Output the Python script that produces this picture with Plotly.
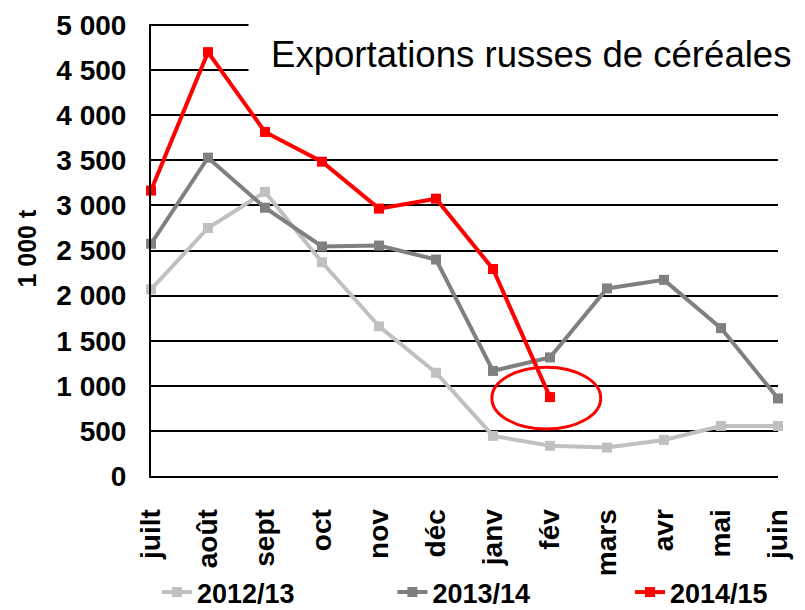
import plotly.graph_objects as go

months = ["juilt", "août", "sept", "oct", "nov", "déc", "janv", "fév", "mars", "avr", "mai", "juin"]
s2012_13 = [2070, 2750, 3150, 2370, 1660, 1145, 445, 335, 315, 400, 555, 555]
s2013_14 = [2575, 3530, 2975, 2545, 2555, 2400, 1165, 1315, 2080, 2175, 1640, 860]
s2014_15 = [3165, 4700, 3815, 3485, 2965, 3075, 2295, 875]
series_names = ["2012/13", "2013/14", "2014/15"]
y_ticks = [0, 500, 1000, 1500, 2000, 2500, 3000, 3500, 4000, 4500, 5000]

colors = ["#C0C0C0", "#808080", "#FF0000"]
legend_ids = ["legend", "legend2", "legend3"]
legend_x = [0.0094, 0.385, 0.764]
FONT = "Liberation Sans"

fig = go.Figure()
for name, vals, col, lg in zip(series_names, [s2012_13, s2013_14, s2014_15], colors, legend_ids):
    fig.add_trace(go.Scatter(
        x=months[:len(vals)], y=vals, name=name, mode="lines+markers",
        line=dict(color=col, width=4), marker=dict(symbol="square", size=10, color=col),
        cliponaxis=False, legend=lg,
    ))

# highlight ellipse around last value
fig.add_shape(type="circle", xref="x", yref="y", x0=5.98, x1=7.89, y0=520, y1=1206,
              line=dict(color="#FF0000", width=3), fillcolor="rgba(0,0,0,0)")

fig.add_annotation(text="Exportations russes de céréales", xref="paper", yref="paper",
                   x=0.1547, y=0.932, xanchor="left", yanchor="middle", showarrow=False,
                   bgcolor="white", borderpad=22,
                   font=dict(family=FONT, size=36.6, color="black"))

fig.add_annotation(text="1 000 t", xref="paper", yref="paper", x=-0.198, y=0.505,
                   xanchor="center", yanchor="middle", textangle=-90, showarrow=False,
                   font=dict(family=FONT, size=25, color="black", weight="bold"))

legend_font = dict(family=FONT, size=27, color="black", weight="bold")
legends = {}
for lg, lx in zip(legend_ids, legend_x):
    legends[lg] = dict(orientation="h", x=lx, y=-0.312, xanchor="left", yanchor="bottom",
                       font=legend_font, bgcolor="rgba(0,0,0,0)")

# page body has an 8px margin: shrink figure so the plot lands where the reference has it
fig.update_layout(
    width=797, height=602,
    margin=dict(l=143, r=27, t=16, b=134, autoexpand=False),
    plot_bgcolor="white", paper_bgcolor="white",
    separators=", ",
    showlegend=True,
    **legends,
    xaxis=dict(type="category", range=[0, 11], showline=True, linecolor="black", linewidth=2,
               showgrid=False, ticks="", tickangle=-90, automargin=False,
               ticklabelstandoff=20,
               tickfont=dict(family=FONT, size=28, color="black", weight="bold")),
    yaxis=dict(range=[0, 5012], tickvals=y_ticks, tickformat=",d", showline=True,
               linecolor="black", linewidth=2, showgrid=True, gridcolor="black", gridwidth=2,
               zeroline=False, ticks="", ticklabelstandoff=17, automargin=False,
               tickfont=dict(family=FONT, size=28, color="black", weight="bold")),
)

fig.write_html("out.html")
